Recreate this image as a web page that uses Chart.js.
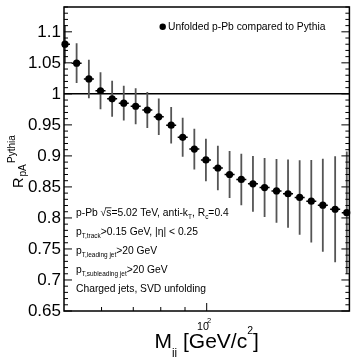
<!DOCTYPE html>
<html>
<head>
<meta charset="utf-8">
<script src="https://cdn.jsdelivr.net/npm/chart.js@4.4.1/dist/chart.umd.min.js"></script>
<style>
  html, body { margin: 0; padding: 0; background: #fff; }
</style>
</head>
<body>
<canvas id="chart" width="353" height="357"></canvas>
<script>
// ── data ─────────────────────────────────────────────────────
// dijet mass bin centres (GeV/c^2), log x axis
const massBins = [
  50.24, 53.16, 56.42, 59.70, 63.17, 66.84, 70.82, 74.94, 79.23, 84.15,
  88.99, 94.17, 99.62, 105.57, 111.76, 118.31, 125.19, 132.47, 140.36,
  148.45, 157.07, 166.20, 175.78, 186.62, 197.46
];
// R_pA^Pythia
const rpaValues = [
  1.080, 1.0495, 1.024, 1.005, 0.992, 0.985, 0.980, 0.974, 0.963, 0.9495,
  0.930, 0.911, 0.8935, 0.8805, 0.870, 0.862, 0.855, 0.849, 0.8435,
  0.839, 0.833, 0.827, 0.8205, 0.814, 0.8085
];
// symmetric statistical errors
const rpaErrors = [
  0.031, 0.032, 0.031, 0.030, 0.029, 0.028, 0.029, 0.029, 0.0295, 0.0295,
  0.0315, 0.0328, 0.0343, 0.036, 0.038, 0.0415, 0.045, 0.0475, 0.0513,
  0.055, 0.060, 0.0665, 0.0748, 0.0855, 0.0985
];

const xMinorTicks = [60, 70, 80, 90];
const xMajorTicks = [100];
const legendLabel = "Unfolded p-Pb compared to Pythia";

// info block, [text, kind] with kind '', 'sub', 'sup', 'bar'
const infoLines = [
  [["p-Pb ", ""], ["\u221A", ""], ["s", "bar"], ["=5.02 TeV, anti-k", ""], ["T", "sub"], [", R", ""], ["c", "sub"], ["=0.4", ""]],
  [["p", ""], ["T,track", "sub"], [">0.15 GeV, |\u03B7| < 0.25", ""]],
  [["p", ""], ["T,leading jet", "sub"], [">20 GeV", ""]],
  [["p", ""], ["T,subleading jet", "sub"], [">20 GeV", ""]],
  [["Charged jets, SVD unfolding", ""]]
];

const FONT = '"Liberation Sans", Arial, Helvetica, sans-serif';

// ── rich text helper (sub/superscripts like ROOT's TLatex) ──
function drawRich(ctx, x, y, parts, size) {
  parts.forEach(p => {
    const [t, kind, sc, dyf] = p;
    const small = kind === "sub" || kind === "sup";
    const fs = small ? size * (sc || 0.63) : size;
    const dy = dyf !== undefined ? dyf * size : kind === "sub" ? size * 0.3 : kind === "sup" ? -size * 0.42 : 0;
    ctx.font = fs + "px " + FONT;
    ctx.fillText(t, x, y + dy);
    const w = ctx.measureText(t).width;
    if (kind === "bar") {
      ctx.save();
      ctx.lineWidth = 0.8;
      ctx.beginPath();
      ctx.moveTo(x - 1, y - size * 0.8);
      ctx.lineTo(x + w, y - size * 0.8);
      ctx.stroke();
      ctx.restore();
    }
    x += w;
  });
  return x;
}
function richWidth(ctx, parts, size) {
  let w = 0;
  parts.forEach(([t, kind, sc]) => {
    const small = kind === "sub" || kind === "sup";
    ctx.font = (small ? size * (sc || 0.63) : size) + "px " + FONT;
    w += ctx.measureText(t).width;
  });
  return w;
}

const rootStyle = {
  id: "rootStyle",
  beforeDatasetsDraw(chart) {
    const { ctx, chartArea: a, scales: { x, y } } = chart;
    ctx.save();
    ctx.beginPath();
    ctx.rect(a.left, a.top, a.right - a.left, a.bottom - a.top);
    ctx.clip();

    // unity line
    const y1 = y.getPixelForValue(1);
    ctx.strokeStyle = "#000";
    ctx.lineWidth = 1.5;
    ctx.beginPath();
    ctx.moveTo(a.left, y1);
    ctx.lineTo(a.right, y1);
    ctx.stroke();

    // error bars
    massBins.forEach((m, i) => {
      const px = x.getPixelForValue(m);
      const py = y.getPixelForValue(rpaValues[i]);
      ctx.strokeStyle = "#555";
      ctx.lineWidth = 1.8;
      ctx.beginPath();
      ctx.moveTo(px, y.getPixelForValue(rpaValues[i] + rpaErrors[i]));
      ctx.lineTo(px, y.getPixelForValue(rpaValues[i] - rpaErrors[i]));
      ctx.stroke();
      ctx.strokeStyle = "#000";
      ctx.lineWidth = 1.5;
      ctx.beginPath();
      ctx.moveTo(px - 5, py);
      ctx.lineTo(px + 5, py);
      ctx.stroke();
    });
    ctx.restore();
  },
  afterDraw(chart) {
    const { ctx, chartArea: a, scales: { x, y } } = chart;
    ctx.save();
    ctx.strokeStyle = "#000";
    ctx.fillStyle = "#000";

    // y ticks, left and right, minor every 0.01
    ctx.lineWidth = 1;
    ctx.beginPath();
    for (let k = 65; k <= 114; k++) {
      const py = y.getPixelForValue(k / 100);
      const len = k % 5 === 0 ? 8 : 4;
      ctx.moveTo(a.left, py); ctx.lineTo(a.left + len, py);
      ctx.moveTo(a.right, py); ctx.lineTo(a.right - len, py);
    }
    xMinorTicks.forEach(v => {
      const px = x.getPixelForValue(v);
      ctx.moveTo(px, a.bottom); ctx.lineTo(px, a.bottom - 4);
    });
    xMajorTicks.forEach(v => {
      const px = x.getPixelForValue(v);
      ctx.moveTo(px, a.bottom); ctx.lineTo(px, a.bottom - 8);
    });
    ctx.stroke();

    // frame
    ctx.lineWidth = 1.5;
    ctx.strokeRect(a.left, a.top, a.right - a.left, a.bottom - a.top);

    // x tick label 10^2
    ctx.textAlign = "left";
    ctx.textBaseline = "alphabetic";
    xMajorTicks.forEach(v => {
      const px = x.getPixelForValue(v);
      ctx.font = "10.7px " + FONT;
      ctx.fillText("10", px - 9.7, 329.5);
      ctx.font = "7.5px " + FONT;
      ctx.fillText("2", px + 0.3, 323);
    });

    // x title
    const xt = [["M", ""], ["jj", "sub", 0.55, 0.38], [" [GeV/c", ""], ["2", "sup", 0.5, -0.66], ["]", ""]];
    const xw = richWidth(ctx, xt, 21);
    drawRich(ctx, (a.left + a.right) / 2 - xw / 2, 348, xt, 21);

    // y title, rotated
    ctx.save();
    ctx.translate(23, 188);
    ctx.rotate(-Math.PI / 2);
    ctx.font = "14.5px " + FONT;
    ctx.fillText("R", 0, 0);
    ctx.font = "10px " + FONT;
    ctx.fillText("pA", 11.5, 2.5);
    ctx.fillText("Pythia", 25, -8.5);
    ctx.restore();

    // legend
    ctx.beginPath();
    ctx.arc(162.7, 26.7, 3.2, 0, Math.PI * 2);
    ctx.fill();
    ctx.font = "10.3px " + FONT;
    ctx.fillText(legendLabel, 168, 29.5);

    // info block
    infoLines.forEach((parts, i) => {
      drawRich(ctx, 76, 216 + i * 19, parts, 10.3);
    });
    ctx.restore();
  }
};

new Chart(document.getElementById("chart"), {
  type: "scatter",
  data: {
    datasets: [{
      label: legendLabel,
      data: massBins.map((m, i) => ({ x: m, y: rpaValues[i] })),
      pointRadius: 3.6,
      pointHoverRadius: 3.6,
      backgroundColor: "#000",
      borderWidth: 0,
      clip: false
    }]
  },
  options: {
    responsive: false,
    animation: false,
    devicePixelRatio: 1,
    events: [],
    layout: { padding: { left: 0, right: 2, top: 7, bottom: 0 } },
    plugins: { legend: { display: false }, tooltip: { enabled: false } },
    scales: {
      x: {
        type: "logarithmic",
        min: 50,
        max: 200,
        ticks: { display: false },
        grid: { display: false, drawTicks: false },
        border: { display: false },
        afterFit: s => { s.height = 46; s.paddingLeft = 0; s.paddingRight = 0; }
      },
      y: {
        type: "linear",
        min: 0.65,
        max: 1.14,
        ticks: {
          stepSize: 0.05,
          includeBounds: false,
          autoSkip: false,
          padding: 3,
          color: "#000",
          font: { family: FONT, size: 17 },
          callback: v => String(parseFloat(v.toFixed(2)))
        },
        grid: { display: false, drawTicks: false },
        border: { display: false },
        afterFit: s => { s.width = 64; s.paddingTop = 0; s.paddingBottom = 0; }
      }
    }
  },
  plugins: [rootStyle]
});
</script>
</body>
</html>
